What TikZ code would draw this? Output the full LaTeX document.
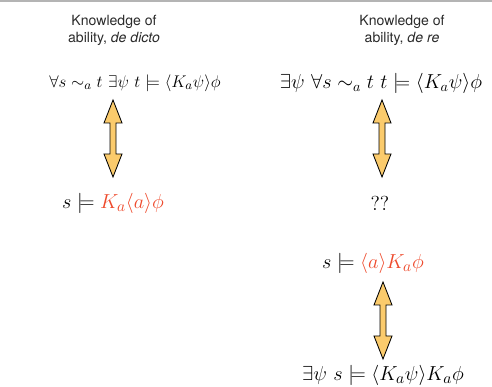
\documentclass[tikz,border=0pt]{standalone}
\usepackage{amsmath,amssymb}
\usepackage{fontspec}
\newfontfamily\headfont{TeX Gyre Heros}
\definecolor{rulegray}{HTML}{B4B4B4}
\definecolor{abilred}{HTML}{EE4A2C}
\definecolor{arrowfill}{HTML}{FBCB6C}
\definecolor{headtext}{HTML}{2A2A2A}
\usetikzlibrary{calc}

\tikzset{
  heading/.style={font=\headfont\fontsize{10}{12}\selectfont, text=headtext, align=center, inner sep=0pt},
  formula/.style={font=\fontsize{12.2}{14}\selectfont, inner sep=0pt},
  bigformula/.style={font=\fontsize{15}{17}\selectfont, inner sep=0pt},
  fatarrow/.style={draw=black, fill=arrowfill, line width=0.6pt, line join=miter},
}

% fat double arrow from #1 (top tip) down to #2 (bottom tip)
\newcommand{\eqvarrow}[2]{%
  \draw[fatarrow] (#1) -- ($(#1)+(9,-23)$) -- ($(#1)+(3,-23)$)
    -- ($(#2)+(3,23)$) -- ($(#2)+(9,23)$) -- (#2)
    -- ($(#2)+(-9,23)$) -- ($(#2)+(-3,23)$)
    -- ($(#1)+(-3,-23)$) -- ($(#1)+(-9,-23)$) -- cycle;}

\begin{document}
\begin{tikzpicture}[x=0.025cm, y=0.025cm]
\useasboundingbox (0,0) rectangle (492,387);

% === top rule ===
\draw[rulegray, line width=1.4pt] (0,386) -- (492,386);

% === LEFT: de dicto ===
\node[heading] (dictoH) at (114,357) {Knowledge of\\ability, \textit{de dicto}};
\node[formula] (dictoF) at (135,304) {$\forall s \sim_a t \ \exists\psi \ t \models \langle K_a\psi\rangle\phi$};
\node[bigformula] (dictoS) at (113,184) {$s \models \textcolor{abilred}{K_a\langle a\rangle\phi}$};

\coordinate (dictoTop) at (113,287);
\coordinate (dictoBot) at (113,210);
\eqvarrow{dictoTop}{dictoBot}

% === RIGHT: de re ===
\node[heading] (reH) at (402,357) {Knowledge of\\ability, \textit{de re}};
\node[formula, font=\fontsize{13.9}{16}\selectfont] (reF) at (381,304) {$\exists\psi \ \forall s \sim_a t \ t \models \langle K_a\psi\rangle\phi$};
\node[bigformula] (reQ) at (380,184) {$??$};
\node[bigformula] (reS) at (373,124) {$s \models \textcolor{abilred}{\langle a\rangle K_a\phi}$};
\node[bigformula] (reB) at (383,12) {$\exists\psi \ s \models \langle K_a\psi\rangle K_a\phi$};

\coordinate (reTop) at (382,287);
\coordinate (reBot) at (382,210);
\eqvarrow{reTop}{reBot}

\coordinate (sTop) at (383,105);
\coordinate (sBot) at (383,28);
\eqvarrow{sTop}{sBot}

\end{tikzpicture}
\end{document}
